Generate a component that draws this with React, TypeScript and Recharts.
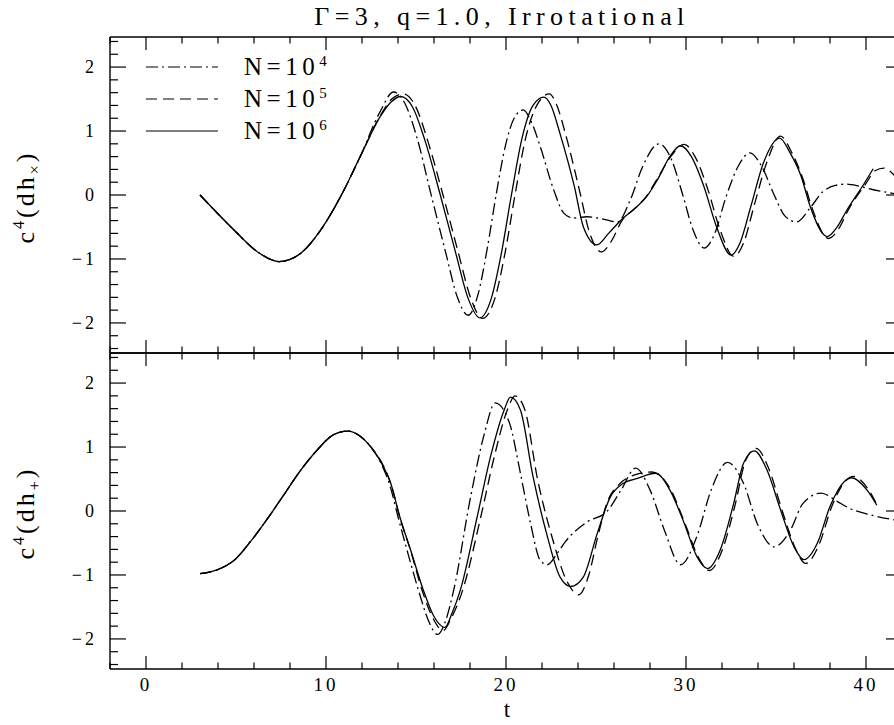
import React from 'react';
import { LineChart, Line, XAxis, YAxis, Legend } from 'recharts';

const X_TICKS = [-2, 0, 2, 4, 6, 8, 10, 12, 14, 16, 18, 20, 22, 24, 26, 28, 30, 32, 34, 36, 38, 40];
const Y_TICKS = [
  -2.4, -2.2, -2, -1.8, -1.6, -1.4, -1.2, -1, -0.8, -0.6, -0.4, -0.2, 0,
  0.2, 0.4, 0.6, 0.8, 1, 1.2, 1.4, 1.6, 1.8, 2, 2.2, 2.4,
];

// upper panel, c^4(dh_x)
const TOP_EARLY: [number, number][] = [
  [3.0, 0.0], [4.9, -0.55], [6.2, -0.89], [7.4, -1.04], [8.6, -0.91],
  [9.7, -0.55], [10.8, -0.03], [11.9, 0.6],
];
const TOP_N4: [number, number][] = [
  ...TOP_EARLY,
  [13.0, 1.3], [13.75, 1.61], [14.35, 1.45], [15.05, 0.9], [15.8, 0.05], [16.65, -0.9],
  [17.3, -1.6], [17.9, -1.88], [18.45, -1.55], [18.95, -0.85], [19.45, 0.0], [19.95, 0.75],
  [20.45, 1.2], [20.95, 1.33], [21.4, 1.15], [21.9, 0.76], [22.65, 0.08], [23.2, -0.28],
  [23.7, -0.36], [24.5, -0.34], [25.3, -0.37], [26.2, -0.42], [26.9, -0.08], [27.6, 0.45],
  [28.5, 0.8], [29.2, 0.55], [29.8, 0.02], [30.4, -0.55], [31.0, -0.83], [31.6, -0.6],
  [32.2, -0.05], [32.9, 0.45], [33.55, 0.66], [34.2, 0.45], [34.9, 0.0], [35.5, -0.33],
  [36.15, -0.42], [36.9, -0.2], [37.6, 0.05], [38.3, 0.15], [38.9, 0.17], [39.6, 0.14],
  [40.3, 0.09], [41.0, 0.05], [41.6, 0.02],
];
const TOP_N5: [number, number][] = [
  ...TOP_EARLY,
  [13.0, 1.23], [13.65, 1.5], [14.3, 1.58], [14.95, 1.4], [15.65, 0.85], [16.5, 0.0],
  [17.35, -0.9], [18.05, -1.62], [18.7, -1.93], [19.4, -1.6], [19.95, -0.9], [20.5, 0.0],
  [21.1, 0.9], [21.75, 1.42], [22.4, 1.58], [22.8, 1.42], [23.3, 0.96], [24.1, 0.05],
  [24.6, -0.55], [25.3, -0.89], [25.9, -0.7], [26.4, -0.42], [27.2, -0.2], [27.8, -0.02],
  [28.5, 0.3], [29.2, 0.62], [29.9, 0.79], [30.5, 0.6], [31.2, 0.1], [31.9, -0.55],
  [32.65, -0.96], [33.2, -0.75], [33.8, -0.15], [34.5, 0.52], [35.25, 0.92], [35.9, 0.65],
  [36.5, 0.25], [37.0, -0.2], [37.9, -0.68], [38.5, -0.52], [39.0, -0.24], [40.0, 0.18],
  [40.5, 0.38], [41.0, 0.42], [41.6, 0.3],
];
const TOP_N6: [number, number][] = [
  ...TOP_EARLY,
  [13.0, 1.22], [13.6, 1.45], [14.15, 1.54], [14.8, 1.38], [15.5, 0.85], [16.35, 0.0],
  [17.2, -0.9], [17.9, -1.62], [18.55, -1.92], [19.2, -1.6], [19.75, -0.9], [20.3, 0.0],
  [20.9, 0.9], [21.5, 1.4], [22.1, 1.53], [22.5, 1.4], [23.0, 0.96], [23.8, 0.13],
  [24.3, -0.5], [25.05, -0.78], [25.7, -0.6], [26.4, -0.39], [27.2, -0.2], [27.8, -0.03],
  [28.4, 0.23], [29.1, 0.6], [29.7, 0.77], [30.3, 0.6], [31.0, 0.13], [31.7, -0.5],
  [32.5, -0.94], [33.0, -0.75], [33.6, -0.18], [34.3, 0.5], [35.2, 0.89], [35.8, 0.65],
  [36.4, 0.29], [36.9, -0.18], [37.85, -0.65], [38.4, -0.5], [38.95, -0.23], [39.9, 0.18],
  [40.4, 0.41],
];

// lower panel, c^4(dh_+)
const BOT_EARLY: [number, number][] = [
  [3.0, -0.98], [3.95, -0.92], [4.9, -0.77], [5.8, -0.48], [6.7, -0.14], [7.65, 0.25],
  [8.6, 0.64], [9.5, 0.95], [10.4, 1.19], [11.2, 1.25], [11.9, 1.17], [12.5, 1.0],
];
const BOT_N4: [number, number][] = [
  ...BOT_EARLY,
  [13.1, 0.72], [13.55, 0.4], [14.0, -0.09], [14.5, -0.61], [15.15, -1.25], [15.7, -1.72],
  [16.2, -1.93], [16.6, -1.75], [17.1, -1.23], [18.0, 0.17], [18.8, 1.21], [19.4, 1.69],
  [20.2, 1.37], [20.8, 0.59], [21.36, -0.19], [21.9, -0.77], [22.3, -0.84], [22.85, -0.66],
  [23.3, -0.48], [24.5, -0.17], [25.6, -0.01], [26.4, 0.33], [27.2, 0.67], [28.0, 0.33],
  [28.8, -0.3], [29.7, -0.84], [30.6, -0.4], [31.4, 0.33], [32.3, 0.76], [33.2, 0.43],
  [33.95, -0.19], [34.9, -0.56], [35.8, -0.3], [36.5, 0.12], [37.5, 0.28], [38.4, 0.15],
  [39.1, 0.04], [40.25, -0.06], [41.6, -0.14],
];
const BOT_N5: [number, number][] = [
  ...BOT_EARLY,
  [13.2, 0.7], [13.6, 0.43], [14.1, -0.1], [14.7, -0.62], [15.35, -1.25], [15.95, -1.68],
  [16.5, -1.87], [16.95, -1.68], [17.6, -1.23], [18.6, -0.09], [19.35, 0.85], [20.1, 1.6],
  [20.5, 1.8], [21.05, 1.58], [21.75, 0.5], [22.6, -0.45], [23.35, -1.08], [24.05, -1.31],
  [24.6, -1.0], [25.1, -0.4], [25.6, 0.12], [26.3, 0.42], [27.1, 0.56], [28.1, 0.61],
  [29.1, 0.36], [29.95, -0.2], [30.7, -0.73], [31.3, -0.93], [32.0, -0.62], [32.75, 0.12],
  [33.3, 0.78], [33.9, 0.98], [34.6, 0.66], [35.35, 0.0], [36.1, -0.6], [36.65, -0.82],
  [37.4, -0.52], [38.1, 0.07], [38.9, 0.48], [39.3, 0.54], [40.1, 0.35], [40.6, 0.1],
];
const BOT_N6: [number, number][] = [
  ...BOT_EARLY,
  [13.2, 0.69], [13.6, 0.43], [14.1, -0.09], [14.7, -0.61], [15.4, -1.23], [16.0, -1.65],
  [16.6, -1.82], [17.0, -1.6], [17.47, -1.23], [18.4, -0.09], [19.14, 0.85], [19.9, 1.58],
  [20.25, 1.78], [20.8, 1.58], [21.5, 0.54], [22.3, -0.4], [23.0, -1.03], [23.6, -1.18],
  [24.3, -1.03], [25.07, -0.35], [25.8, 0.22], [26.5, 0.43], [27.3, 0.51], [28.3, 0.59],
  [29.1, 0.33], [29.9, -0.19], [30.6, -0.71], [31.2, -0.9], [31.9, -0.61], [32.65, 0.12],
  [33.2, 0.75], [33.8, 0.94], [34.5, 0.64], [35.25, 0.02], [36.0, -0.56], [36.55, -0.76],
  [37.3, -0.5], [38.0, 0.07], [38.8, 0.46], [39.2, 0.52], [40.05, 0.33], [40.6, 0.09],
];

const SERIES = [
  { key: 'n4', exp: '4', dash: '12 4 2 4' },
  { key: 'n5', exp: '5', dash: '11 6' },
  { key: 'n6', exp: '6', dash: undefined as string | undefined },
];

const FONT = '"Liberation Serif", "Times New Roman", serif';
const X_DOMAIN: [number, number] = [-2, 42];
const Y_DOMAIN: [number, number] = [-2.47, 2.47];

const toPoints = (arr: [number, number][]) => arr.map(([t, v]) => ({ t, v }));

const isMajorX = (v: number) => Math.abs(v % 10) < 1e-6;
const isMajorY = (v: number) => Math.abs(v - Math.round(v)) < 1e-6;
const fmtY = (v: number) => (v < 0 ? `\u2212${Math.abs(v)}` : `${v}`);

type Side = 'bottom' | 'top' | 'left' | 'right';

function makeTick(side: Side, withLabel: boolean) {
  return (props: any) => {
    const { x, y, payload } = props;
    const v = payload.value as number;
    if (side === 'bottom' || side === 'top') {
      const len = isMajorX(v) ? 13 : 6.5;
      const dir = side === 'bottom' ? -1 : 1;
      return (
        <g>
          <line x1={x} x2={x} y1={y} y2={y + dir * len} stroke="#000" strokeWidth={1.2} />
          {withLabel && isMajorX(v) && (
            <text x={x} y={y + 22} textAnchor="middle" fontFamily={FONT} fontSize={19} letterSpacing={3} fill="#000">
              {v}
            </text>
          )}
        </g>
      );
    }
    const len = isMajorY(v) ? 16 : 8;
    const dir = side === 'left' ? 1 : -1;
    return (
      <g>
        <line x1={x} x2={x + dir * len} y1={y} y2={y} stroke="#000" strokeWidth={1.2} />
        {withLabel && isMajorY(v) && (
          <text x={x - 13} y={y + 6} textAnchor="end" fontFamily={FONT} fontSize={18} letterSpacing={3} fill="#000">
            {fmtY(v)}
          </text>
        )}
      </g>
    );
  };
}

function LegendBox() {
  return (
    <div style={{ fontFamily: FONT }}>
      {SERIES.map((s) => (
        <div key={s.key} style={{ height: 32, display: 'flex', alignItems: 'center' }}>
          <svg width={72} height={4} style={{ overflow: 'visible' }}>
            <line x1={0} x2={72} y1={2} y2={2} stroke="#000" strokeWidth={1.2} strokeDasharray={s.dash} />
          </svg>
          <span style={{ marginLeft: 26, fontSize: 25, letterSpacing: 4.5, lineHeight: '24px' }}>
            N=10<sup style={{ fontSize: 15, verticalAlign: '9px', lineHeight: 0 }}>{s.exp}</sup>
          </span>
        </div>
      ))}
    </div>
  );
}

interface PanelProps {
  series: [number, number][][];
  width: number;
  height: number;
  margin: { top: number; right: number; bottom: number; left: number };
  bottomLabels: boolean;
  legend: boolean;
}

function Panel({ series, width, height, margin, bottomLabels, legend }: PanelProps) {
  return (
    <LineChart width={width} height={height} margin={margin}>
      <XAxis
        xAxisId="b"
        dataKey="t"
        type="number"
        orientation="bottom"
        domain={X_DOMAIN}
        ticks={X_TICKS}
        interval={0}
        height={1}
        tickSize={0}
        tickMargin={0}
        tickLine={false}
        tick={makeTick('bottom', bottomLabels)}
        axisLine={{ stroke: '#000', strokeWidth: 1.4 }}
        allowDataOverflow
      />
      <XAxis
        xAxisId="t"
        dataKey="t"
        type="number"
        orientation="top"
        domain={X_DOMAIN}
        ticks={X_TICKS}
        interval={0}
        height={1}
        tickSize={0}
        tickMargin={0}
        tickLine={false}
        tick={makeTick('top', false)}
        axisLine={{ stroke: '#000', strokeWidth: 1.4 }}
        allowDataOverflow
      />
      <YAxis
        yAxisId="l"
        type="number"
        orientation="left"
        domain={Y_DOMAIN}
        ticks={Y_TICKS}
        interval={0}
        width={1}
        tickSize={0}
        tickMargin={0}
        tickLine={false}
        tick={makeTick('left', true)}
        axisLine={{ stroke: '#000', strokeWidth: 1.4 }}
        allowDataOverflow
      />
      <YAxis
        yAxisId="r"
        type="number"
        orientation="right"
        domain={Y_DOMAIN}
        ticks={Y_TICKS}
        interval={0}
        width={1}
        tickSize={0}
        tickMargin={0}
        tickLine={false}
        tick={makeTick('right', false)}
        axisLine={{ stroke: '#000', strokeWidth: 1.4 }}
        allowDataOverflow
      />
      {legend && (
        <Legend
          layout="vertical"
          align="center"
          verticalAlign="middle"
          content={() => <LegendBox />}
          wrapperStyle={{ position: 'absolute', left: 146, top: 51, width: 240 }}
        />
      )}
      {SERIES.map((s, i) => (
        <Line
          key={s.key}
          data={toPoints(series[i])}
          dataKey="v"
          xAxisId="b"
          yAxisId="l"
          type="monotone"
          stroke="#000"
          strokeWidth={1.3}
          strokeDasharray={s.dash}
          dot={false}
          activeDot={false}
          legendType="none"
          isAnimationActive={false}
        />
      ))}
    </LineChart>
  );
}

export default function App() {
  const yLabel: React.CSSProperties = {
    position: 'absolute',
    left: 27,
    transform: 'translate(-50%, -50%) rotate(-90deg)',
    fontSize: 26,
    letterSpacing: 3,
    whiteSpace: 'nowrap',
    lineHeight: '30px',
  };
  return (
    <div
      style={{
        position: 'absolute',
        left: 0,
        top: 0,
        width: 894,
        height: 725,
        overflow: 'hidden',
        background: '#fff',
        fontFamily: FONT,
        color: '#000',
      }}
    >
      <div
        style={{
          position: 'absolute',
          left: 502,
          top: 2,
          transform: 'translateX(-50%)',
          fontSize: 26,
          letterSpacing: 5.4,
          whiteSpace: 'pre',
          lineHeight: '30px',
        }}
      >
        Γ=3, q=1.0, Irrotational
      </div>
      <div style={{ position: 'absolute', left: 0, top: 0 }}>
        <Panel
          series={[TOP_N4, TOP_N5, TOP_N6]}
          width={904}
          height={360}
          margin={{ top: 36, right: 1, bottom: 6, left: 109 }}
          bottomLabels={false}
          legend
        />
      </div>
      <div style={{ position: 'absolute', left: 0, top: 340 }}>
        <Panel
          series={[BOT_N4, BOT_N5, BOT_N6]}
          width={904}
          height={385}
          margin={{ top: 12, right: 1, bottom: 55, left: 109 }}
          bottomLabels
          legend={false}
        />
      </div>
      <div style={{ ...yLabel, top: 197 }}>
        c<sup style={{ fontSize: 16 }}>4</sup>(dh<sub style={{ fontSize: 16 }}>×</sub>)
      </div>
      <div style={{ ...yLabel, top: 513 }}>
        c<sup style={{ fontSize: 16 }}>4</sup>(dh<sub style={{ fontSize: 16 }}>+</sub>)
      </div>
      <div
        style={{
          position: 'absolute',
          left: 507,
          top: 697,
          transform: 'translateX(-50%)',
          fontSize: 23,
          lineHeight: '26px',
        }}
      >
        t
      </div>
    </div>
  );
}
